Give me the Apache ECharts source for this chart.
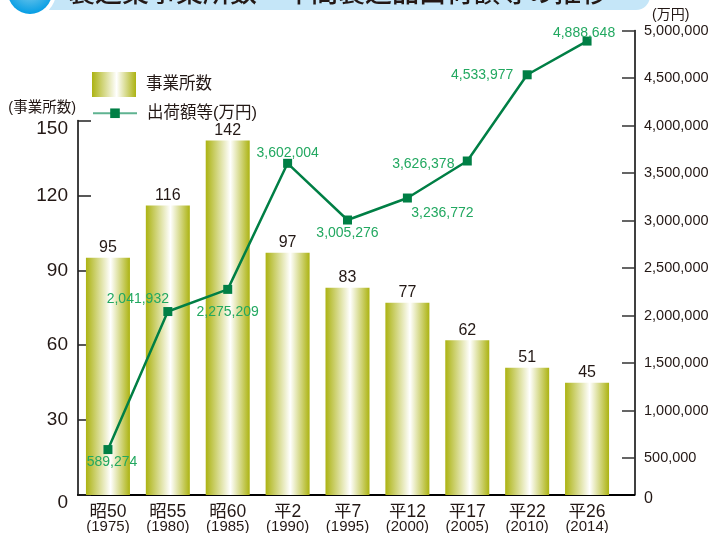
<!DOCTYPE html>
<html>
<head>
    <meta charset="utf-8">
    <script src="https://cdn.jsdelivr.net/npm/echarts@6/dist/echarts.min.js"></script>
    <style>
        * { margin: 0; padding: 0; }
        #chart { width: 710px; height: 533px; background: #fff; }
    </style>
</head>
<body>
    <div id="chart"></div>
    <script>
        const titleText = '製造業事業所数・年間製造品出荷額等の推移';
        const eraLabels = ['昭50', '昭55', '昭60', '平2', '平7', '平12', '平17', '平22', '平26'];
        const yearLabels = ['(1975)', '(1980)', '(1985)', '(1990)', '(1995)', '(2000)', '(2005)', '(2010)', '(2014)'];
        const officeCounts = [95, 116, 142, 97, 83, 77, 62, 51, 45];
        const shipmentValues = [589274, 2041932, 2275209, 3602004, 3005276, 3236772, 3626378, 4533977, 4888648];
        const rightTicks = [500000, 1000000, 1500000, 2000000, 2500000, 3000000, 3500000, 4000000, 4500000, 5000000];

        // the right axis in the picture is cut short: its "0" sits above where 0 would fall
        const rightBottom = 111000;
        const labelOffsets = [[4, 13], [-30, -12], [0, 23], [0, -10], [0, 13], [35, 15], [-44, 3], [-45, 0], [-3, -8]];

        const FONT = '"Liberation Sans", "Noto Sans CJK JP", sans-serif';
        const TEXT = '#231815';
        const barFill = new echarts.graphic.LinearGradient(0, 0, 1, 0, [
            { offset: 0, color: '#acb312' },
            { offset: 0.56, color: '#ffffff' },
            { offset: 1, color: '#acb312' }
        ]);

        const chart = echarts.init(document.getElementById('chart'));
        chart.setOption({
            animation: false,
            textStyle: { fontFamily: FONT, color: TEXT },
            title: {
                text: titleText, left: 63, top: -27,
                textStyle: { fontSize: 27, fontWeight: 500, color: TEXT, fontFamily: '"Noto Sans CJK JP", sans-serif' }
            },
            grid: [
                { left: 78, top: 120.5, width: 539, height: 374.5, outerBoundsMode: 'none' },
                { left: 78, top: 30.5, width: 539, height: 464.5, outerBoundsMode: 'none' }
            ],
            legend: [
                {
                    data: [{ name: '事業所数', icon: 'rect' }], left: 92, top: 72, padding: 0, orient: 'vertical',
                    itemWidth: 44, itemHeight: 25, itemGap: 0,
                    textStyle: { fontSize: 16.5, color: TEXT, fontFamily: FONT, padding: [0, 0, 0, 5] }
                },
                {
                    data: ['出荷額等(万円)'], left: 92, top: 105, padding: 0, orient: 'vertical',
                    itemWidth: 44, itemHeight: 12, itemGap: 0,
                    lineStyle: { color: '#5fb391', width: 2 },
                    textStyle: { fontSize: 16.5, color: TEXT, fontFamily: FONT, padding: [0, 0, 0, 5] }
                }
            ],
            xAxis: [
                {
                    type: 'category', gridIndex: 0, data: eraLabels,
                    axisLine: { lineStyle: { color: '#000', width: 2 } },
                    axisTick: { inside: true, length: 10, alignWithLabel: false, lineStyle: { color: '#222', width: 1.5 } },
                    axisLabel: {
                        interval: 0, margin: 9,
                        formatter: (v, i) => '{a|' + v + '}\n{b|' + yearLabels[i] + '}',
                        rich: {
                            a: { fontSize: 17.5, lineHeight: 16, color: TEXT, fontFamily: FONT },
                            b: { fontSize: 15, lineHeight: 13, color: TEXT, fontFamily: FONT }
                        }
                    }
                },
                { type: 'category', gridIndex: 1, data: eraLabels, show: false }
            ],
            yAxis: [
                {
                    type: 'value', gridIndex: 0, min: 0, max: 150, interval: 30,
                    name: '(事業所数)', nameLocation: 'end', nameGap: 5,
                    nameTextStyle: { fontSize: 14.5, color: TEXT, align: 'right', padding: [0, 2, 0, 0] },
                    axisLine: { show: true, lineStyle: { color: '#000', width: 1.5 } },
                    axisTick: { show: true, inside: true, length: 13, lineStyle: { color: '#222', width: 1.5 } },
                    axisLabel: {
                        fontSize: 19, color: TEXT, margin: 10,
                        // the end labels sit a little below their ticks
                        formatter: v => (v === 0 || v === 150) ? '{low|' + v + '}' : String(v),
                        rich: { low: { fontSize: 19, color: TEXT, padding: [16, 0, 0, 0], fontFamily: FONT } }
                    },
                    splitLine: { show: false }
                },
                {
                    type: 'value', gridIndex: 1, position: 'right', offset: 18,
                    min: rightBottom, max: 5000000,
                    name: '(万円)', nameLocation: 'end', nameGap: 8,
                    nameTextStyle: { fontSize: 14, color: TEXT, align: 'left', padding: [0, 0, 0, 17] },
                    axisLine: { show: true, lineStyle: { color: '#000', width: 1.5 } },
                    axisTick: { show: true, inside: true, length: 13, customValues: rightTicks, lineStyle: { color: '#333', width: 1.5 } },
                    axisLabel: {
                        fontSize: 14.5, color: TEXT, margin: 9,
                        customValues: [rightBottom].concat(rightTicks),
                        formatter: v => v === rightBottom ? '{z|0}' : v.toLocaleString('en-US'),
                        rich: { z: { fontSize: 16, color: TEXT, padding: [8, 0, 0, 0], fontFamily: FONT } }
                    },
                    splitLine: { show: false }
                }
            ],
            series: [
                {
                    name: '事業所数', type: 'bar', xAxisIndex: 0, yAxisIndex: 0,
                    data: officeCounts, barWidth: 44,
                    itemStyle: { color: barFill },
                    label: { show: true, position: 'top', distance: 2, fontSize: 16, color: TEXT, fontFamily: FONT }
                },
                {
                    name: '出荷額等(万円)', type: 'line', xAxisIndex: 1, yAxisIndex: 1, z: 5,
                    data: shipmentValues.map((v, i) => ({
                        value: v,
                        label: { offset: labelOffsets[i] }
                    })),
                    symbol: 'rect', symbolSize: 9,
                    lineStyle: { color: '#007f45', width: 2.5 },
                    itemStyle: { color: '#007f45' },
                    label: {
                        show: true, position: 'inside', fontSize: 14, color: '#22a860', fontFamily: FONT,
                        formatter: p => p.value.toLocaleString('en-US')
                    }
                }
            ],
            graphic: [
                // baseline runs on past the last category to the right axis
                { type: 'rect', shape: { x: 617, y: 494, width: 18, height: 2 }, style: { fill: '#000' } },
                // title band, cut off by the top of the picture
                { type: 'rect', z: -1, shape: { x: 30, y: -20, width: 620, height: 30, r: [0, 0, 14, 0] }, style: { fill: '#c5e6f8' } },
                { type: 'circle', z: 1, shape: { cx: 30, cy: -8, r: 26 }, style: { fill: '#fff' } },
                {
                    type: 'circle', z: 2, shape: { cx: 30, cy: -8, r: 22 },
                    style: { fill: new echarts.graphic.RadialGradient(0.5, 0.4, 0.6, [
                        { offset: 0, color: '#8fd3ee' },
                        { offset: 1, color: '#049de4' }
                    ]) }
                }
            ]
        });
    </script>
</body>
</html>
